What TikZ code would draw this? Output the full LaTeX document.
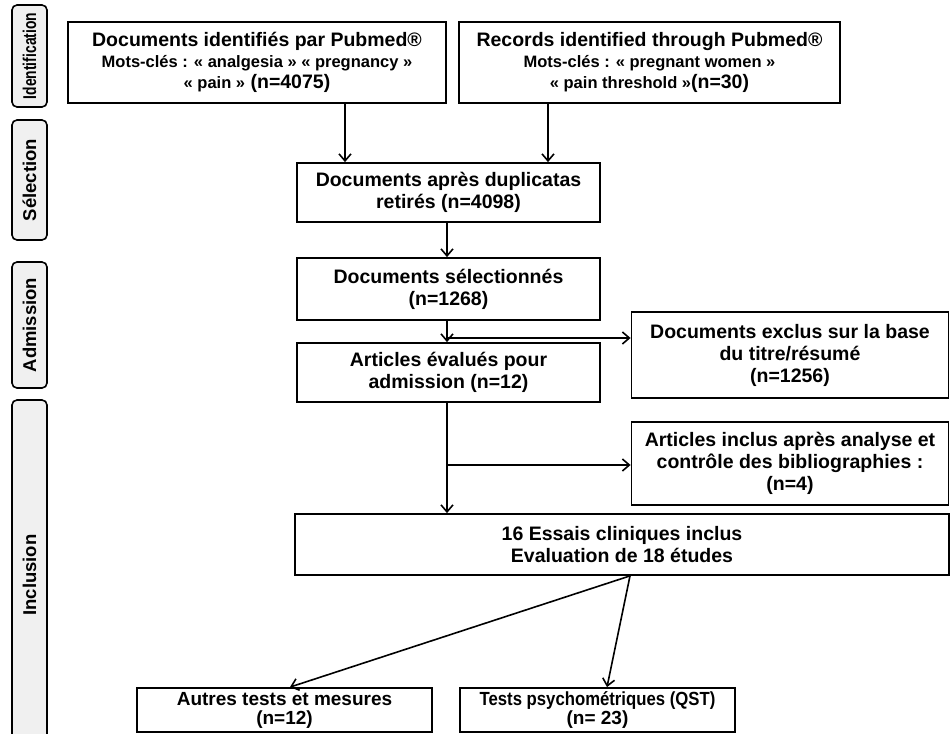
\documentclass[tikz,border=0pt]{standalone}
\usepackage{fontspec}
\setmainfont{Liberation Sans}
\usetikzlibrary{arrows.meta,calc}
\begin{document}
\begin{tikzpicture}[x=1pt,y=-1pt,
  box/.style={draw=black,line width=1.8pt,fill=white,inner sep=0pt,align=center,font=\fontsize{19.5}{22}\selectfont\bfseries},
  lowbox/.style={box,font=\fontsize{19}{19}\selectfont\bfseries},
  side/.style={draw=black,line width=1.6pt,fill=gray!12,rounded corners=5pt,inner sep=0pt,minimum width=35pt,font=\fontsize{18.5}{20}\selectfont\bfseries},
  arr/.style={line width=1.6pt,-{Straight Barb[length=7pt,width=12pt,line width=1.6pt]}}]
\useasboundingbox (0,0) rectangle (951,734);
\fill[white] (0,0) rectangle (951,734);
\newcommand\smtxt{\fontsize{16.5}{21}\selectfont}
% side labels
\node[side,minimum height=102pt] (s1) at (29.5,56) {\rotatebox{90}{\scalebox{0.75}[1]{Identification}}};
\node[side,minimum height=120pt] (s2) at (29.5,180) {\rotatebox{90}{Sélection}};
\node[side,minimum height=126pt] (s3) at (29.5,325) {\rotatebox{90}{Admission}};
\node[side,minimum height=350pt] (s4) at (29.5,575) {\rotatebox{90}{Inclusion}};
% boxes
\node[box,minimum width=378pt,minimum height=81pt] (b1) at (257,62.5)
  {Documents identifiés par Pubmed®\\[-1pt]{\smtxt Mots-clés : « analgesia » « pregnancy »}\\[-1pt]{\smtxt « pain »} (n=4075)};
\node[box,minimum width=381pt,minimum height=81pt] (b2) at (649.5,62.5)
  {Records identified through Pubmed®\\[-1pt]{\smtxt Mots-clés : « pregnant women »}\\[-1pt]{\smtxt « pain threshold »}(n=30)};
\node[box,minimum width=303pt,minimum height=59pt] (b3) at (448.5,192.5)
  {Documents après duplicatas\\retirés (n=4098)};
\node[box,minimum width=303pt,minimum height=62pt] (b4) at (448.5,289)
  {Documents sélectionnés\\(n=1268)};
\node[box,minimum width=303pt,minimum height=59pt] (b5) at (448.5,372.5)
  {Articles évalués pour\\admission (n=12)};
\node[box,minimum width=317pt,minimum height=86pt] (b6) at (790,355)
  {Documents exclus sur la base\\du titre/résumé\\(n=1256)};
\node[box,minimum width=317pt,minimum height=83pt] (b7) at (790,463.5)
  {Articles inclus après analyse et\\contrôle des bibliographies :\\(n=4)};
\node[box,minimum width=654pt,minimum height=61pt] (b8) at (622,544.5)
  {16 Essais cliniques inclus\\Evaluation de 18 études};
\node[lowbox,minimum width=295pt,minimum height=44pt] (b9) at (284.5,710)
  {Autres tests et mesures\\(n=12)};
\node[lowbox,minimum width=275pt,minimum height=44pt] (b10) at (597.5,710)
  {\scalebox{0.88}[1]{Tests psychométriques (QST)}\\(n= 23)};
% connectors
\coordinate (x1) at (345,0);
\coordinate (x2) at (548,0);
\coordinate (j1) at (447,338);
\coordinate (j2) at (447,465);
\coordinate (src) at (630,0);
\coordinate (t9) at (290,0);
\coordinate (t10) at (607,0);
\draw[arr] (b1.south -| x1) -- (b3.north -| x1);
\draw[arr] (b2.south -| x2) -- (b3.north -| x2);
\draw[arr] (b3.south -| j1) -- (b4.north -| j1);
\draw[arr] (b4.south -| j1) -- (b5.north -| j1);
\draw[arr] (j1) -- (b6.west |- j1);
\draw[arr] (b5.south -| j2) -- (b8.north -| j2);
\draw[arr] (j2) -- (b7.west |- j2);
\draw[arr] (b8.south -| src) -- (b9.north -| t9);
\draw[arr] (b8.south -| src) -- (b10.north -| t10);
\end{tikzpicture}
\end{document}
